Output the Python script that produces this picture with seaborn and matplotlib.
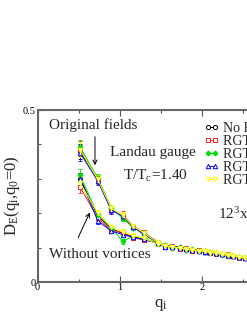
import numpy as np
import pandas as pd
import matplotlib
matplotlib.use("Agg")
import matplotlib.pyplot as plt
from matplotlib.lines import Line2D
import seaborn as sns

# ---------------- data ----------------
q = [0.518, 0.732, 0.897, 1.035, 1.16, 1.29, 1.46, 1.55, 1.64, 1.73, 1.80,
     1.88, 1.96, 2.03, 2.10, 2.17, 2.24, 2.31, 2.38, 2.45, 2.52, 2.59]

series_names = ["No RGT", "RGT 1", "RGT 2", "RGT 3", "RGT 4"]

orig_none = [0.380, 0.300, 0.213, 0.190, 0.160, 0.141, 0.114, 0.106, 0.103, 0.100, 0.097, 0.094, 0.091, 0.088, 0.087, 0.084, 0.081, 0.078, 0.076, 0.073, 0.070, 0.067]
orig_rgt1 = [0.388, 0.296, 0.210, 0.196, 0.163, 0.144, 0.117, 0.104, 0.105, 0.098, 0.099, 0.092, 0.093, 0.089, 0.085, 0.085, 0.080, 0.080, 0.075, 0.074, 0.069, 0.066]
orig_rgt2 = [0.392, 0.302, 0.216, 0.186, 0.158, 0.140, 0.112, 0.107, 0.101, 0.103, 0.095, 0.095, 0.090, 0.090, 0.088, 0.083, 0.082, 0.077, 0.077, 0.072, 0.071, 0.068]
orig_rgt3 = [0.375, 0.294, 0.208, 0.192, 0.161, 0.139, 0.116, 0.105, 0.104, 0.101, 0.098, 0.093, 0.092, 0.087, 0.086, 0.084, 0.081, 0.079, 0.076, 0.073, 0.070, 0.066]
orig_rgt4 = [0.384, 0.299, 0.214, 0.194, 0.162, 0.143, 0.115, 0.106, 0.102, 0.099, 0.096, 0.094, 0.091, 0.089, 0.087, 0.085, 0.080, 0.078, 0.075, 0.074, 0.069, 0.067]

wov_none = [0.300, 0.192, 0.155, 0.141, 0.132, 0.126, 0.112, 0.104, 0.102, 0.099, 0.096, 0.093, 0.091, 0.088, 0.086, 0.084, 0.081, 0.078, 0.076, 0.073, 0.070, 0.066]
wov_rgt1 = [0.276, 0.186, 0.150, 0.144, 0.129, 0.122, 0.114, 0.102, 0.104, 0.097, 0.098, 0.091, 0.092, 0.086, 0.087, 0.082, 0.082, 0.077, 0.077, 0.071, 0.071, 0.064]
wov_rgt2 = [0.310, 0.196, 0.158, 0.118, 0.133, 0.128, 0.110, 0.106, 0.100, 0.101, 0.094, 0.094, 0.089, 0.090, 0.085, 0.085, 0.079, 0.079, 0.075, 0.074, 0.069, 0.067]
wov_rgt3 = [0.300, 0.178, 0.148, 0.138, 0.130, 0.124, 0.113, 0.103, 0.103, 0.098, 0.097, 0.092, 0.091, 0.087, 0.086, 0.083, 0.081, 0.078, 0.076, 0.072, 0.070, 0.065]
wov_rgt4 = [0.288, 0.200, 0.160, 0.146, 0.135, 0.127, 0.111, 0.105, 0.101, 0.100, 0.095, 0.093, 0.090, 0.089, 0.085, 0.084, 0.080, 0.078, 0.075, 0.073, 0.069, 0.066]

err_orig = [0.022, 0.012, 0.009, 0.010, 0.007, 0.006, 0.005, 0.005, 0.004, 0.004, 0.004, 0.004, 0.004, 0.003, 0.003, 0.003, 0.003, 0.003, 0.003, 0.003, 0.003, 0.003]
err_wov = [0.018, 0.010, 0.007, 0.008, 0.006, 0.005, 0.005, 0.004, 0.004, 0.004, 0.004, 0.003, 0.003, 0.003, 0.003, 0.003, 0.003, 0.003, 0.003, 0.003, 0.003, 0.003]

x_ticks = [0, 1, 2]
x_ticklabels = ["0", "1", "2"]
y_ticks = [0, 0.5]
y_ticklabels = ["0", "0.5"]

orig_sets = [orig_none, orig_rgt1, orig_rgt2, orig_rgt3, orig_rgt4]
wov_sets = [wov_none, wov_rgt1, wov_rgt2, wov_rgt3, wov_rgt4]

rows = []
for name, o, w in zip(series_names, orig_sets, wov_sets):
    for qi, v, e in zip(q, o, err_orig):
        rows.append(dict(series=name, group="orig", q=qi, D=v, err=e))
    for qi, v, e in zip(q, w, err_wov):
        rows.append(dict(series=name, group="wov", q=qi, D=v, err=e))
df = pd.DataFrame(rows)

# ---------------- style ----------------
sns.set_theme(style="ticks")
plt.rcParams["font.family"] = ["Liberation Serif", "DejaVu Serif"]
plt.rcParams["mathtext.fontset"] = "custom"
plt.rcParams["mathtext.rm"] = "Liberation Serif"
plt.rcParams["mathtext.it"] = "Liberation Serif"
plt.rcParams["mathtext.bf"] = "Liberation Serif:bold"

colors = {"No RGT": "black", "RGT 1": "#ff2020", "RGT 2": "#00dd00",
          "RGT 3": "#0000ff", "RGT 4": "#ffff00"}
markers = {"No RGT": "o", "RGT 1": "s", "RGT 2": "D", "RGT 3": "^", "RGT 4": "v"}
filled = {"No RGT": False, "RGT 1": False, "RGT 2": True, "RGT 3": False, "RGT 4": False}
msize = {"No RGT": 3.0, "RGT 1": 3.0, "RGT 2": 2.6, "RGT 3": 3.2, "RGT 4": 3.2}

W, H = 247, 319
fig = plt.figure(figsize=(W / 100, H / 100), dpi=100)
x0, x1 = 37.5, 37.5 + 82.3 * 3.0
y_top, y_bot = 110, 282
ax = fig.add_axes([x0 / W, (H - y_bot) / H, (x1 - x0) / W, (y_bot - y_top) / H])

for name in series_names:
    c = colors[name]
    for grp in ["orig", "wov"]:
        sub = df[(df.series == name) & (df.group == grp)]
        ax.errorbar(sub.q, sub.D, yerr=sub.err, fmt="none", ecolor=c,
                    elinewidth=0.6, capsize=1.6, capthick=0.6, zorder=2)
        sns.lineplot(data=sub, x="q", y="D", ax=ax, color=c, estimator=None,
                     sort=False, marker=markers[name], markersize=msize[name],
                     markeredgecolor=c, markeredgewidth=0.7,
                     markerfacecolor=(c if filled[name] else "white"),
                     linewidth=0.7, legend=False, zorder=3)

ax.set_xlim(0, 3.0)
ax.set_ylim(0, 0.5)
ax.set_xticks(x_ticks)
ax.set_xticklabels(x_ticklabels)
ax.set_yticks(y_ticks)
ax.set_yticklabels(y_ticklabels)
ax.set_xticks([0.5, 1.5, 2.5], minor=True)
ax.set_yticks([0.1, 0.2, 0.3, 0.4], minor=True)
ax.tick_params(which="both", direction="in", top=True, right=True,
               colors="#555555", labelcolor="black", labelsize=7.5, width=0.8, pad=1)
ax.tick_params(which="major", length=4)
ax.tick_params(which="minor", length=2.5)
for s in ax.spines.values():
    s.set_color("#666666")
    s.set_linewidth(1.5)

ax.set_xlabel("q$_\\mathrm{i}$", fontsize=12, labelpad=3)
ax.set_ylabel("D$_\\mathrm{E}$(q$_\\mathrm{i}$,q$_\\mathrm{0}$=0)", fontsize=12, labelpad=1)

# annotations
fig.text(49 / W, 1 - 125 / H, "Original fields", fontsize=11, va="center", ha="left")
fig.text(153 / W, 1 - 153 / H, "Landau gauge", fontsize=11, va="center", ha="center")
fig.text(155 / W, 1 - 176 / H, "T/T$_\\mathrm{c}$=1.40", fontsize=11, va="center", ha="center")
fig.text(218 / W, 1 - 214 / H, "12$^\\mathrm{3}$x 6", fontsize=11, va="center", ha="left")
fig.text(49 / W, 1 - 255 / H, "Without vortices", fontsize=11, va="center", ha="left")

def fig_pt(px, py):
    return (px / W, 1 - py / H)

fig.add_artist(matplotlib.patches.FancyArrowPatch(
    fig_pt(95, 134), fig_pt(95, 168), transform=fig.transFigure,
    arrowstyle="->,head_length=3,head_width=1.5", color="black", lw=0.7))
fig.add_artist(matplotlib.patches.FancyArrowPatch(
    fig_pt(77, 240), fig_pt(91, 210), transform=fig.transFigure,
    arrowstyle="->,head_length=3,head_width=1.5", color="black", lw=0.7))

handles = []
for name in series_names:
    c = colors[name]
    handles.append(Line2D([], [], color=c, marker=markers[name], markersize=msize[name],
                          markeredgecolor=c, markeredgewidth=0.7,
                          markerfacecolor=(c if filled[name] else "white"), linewidth=0.7))
leg = fig.legend(handles, series_names, loc="upper left", bbox_to_anchor=(204 / W, 1 - 122 / H),
                 frameon=False, numpoints=2, handlelength=1.1, handletextpad=0.25,
                 labelspacing=0.0, fontsize=10, borderaxespad=0, borderpad=0)

fig.savefig("out.png", dpi=100)
